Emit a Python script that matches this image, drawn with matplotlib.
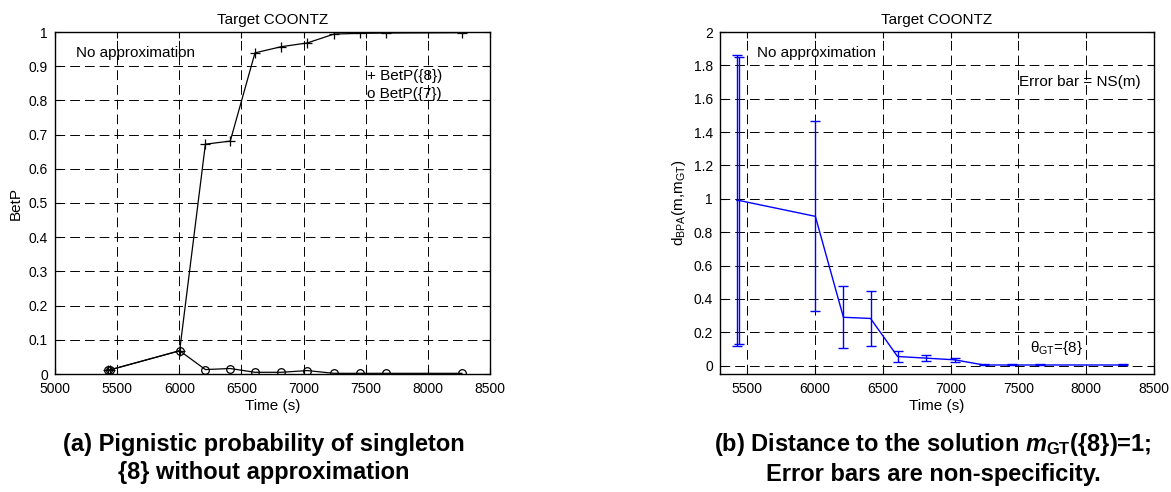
import matplotlib
matplotlib.use("Agg")
import matplotlib.pyplot as plt
from matplotlib.ticker import FuncFormatter

plt.rcParams['font.family'] = ['Liberation Sans', 'DejaVu Sans']
plt.rcParams['mathtext.fontset'] = 'custom'
plt.rcParams['mathtext.rm'] = 'Liberation Sans'
plt.rcParams['mathtext.it'] = 'Liberation Sans:italic:bold'
plt.rcParams['mathtext.bf'] = 'Liberation Sans:bold'
plt.rcParams['lines.scale_dashes'] = False

# ---- data ----
times = [5425, 5442, 6003, 6210, 6410, 6609, 6820, 7030, 7245, 7454, 7660, 8274]
betp8 = [0.012, 0.012, 0.068, 0.672, 0.681, 0.939, 0.957, 0.968, 0.994, 0.996, 0.997, 0.998]
betp7 = [0.012, 0.012, 0.068, 0.013, 0.016, 0.005, 0.005, 0.010, 0.002, 0.002, 0.002, 0.002]
dist = [0.99, 0.99, 0.895, 0.29, 0.283, 0.055, 0.045, 0.035, 0.004, 0.004, 0.004, 0.004]
ns_err = [0.87, 0.86, 0.57, 0.185, 0.167, 0.033, 0.016, 0.012, 0.003, 0.003, 0.003, 0.003]

xticks = [5000, 5500, 6000, 6500, 7000, 7500, 8000, 8500]
yticks_a = [0, 0.1, 0.2, 0.3, 0.4, 0.5, 0.6, 0.7, 0.8, 0.9, 1]
yticks_b = [0, 0.2, 0.4, 0.6, 0.8, 1, 1.2, 1.4, 1.6, 1.8, 2]

W, H = 1171, 492
fig = plt.figure(figsize=(W / 100, H / 100), dpi=100)
ax1 = fig.add_axes([55 / W, 118 / H, 435 / W, 342 / H])
ax2 = fig.add_axes([720 / W, 118 / H, 434 / W, 342 / H])

gfmt = FuncFormatter(lambda v, p: ('%g' % round(v, 6)))

def style(ax):
    ax.grid(True, color='black', linestyle=(0, (7, 3.6)), linewidth=0.7)
    ax.tick_params(direction='in', top=True, right=True, length=4,
                   labelsize=10, width=0.8)
    ax.tick_params(axis='x', pad=6)
    ax.tick_params(axis='y', pad=5)
    for s in ax.spines.values():
        s.set_linewidth(1.0)
    ax.set_axisbelow(True)

# ---- left panel ----
ax1.plot(times, betp8, color='black', lw=0.9, marker='+', ms=7, mew=0.9)
ax1.plot(times, betp7, color='black', lw=0.9, marker='o', ms=5.5,
         mfc='none', mew=0.9)
ax1.set_xlim(5000, 8500)
ax1.set_ylim(0, 1)
ax1.set_xticks(xticks)
ax1.set_yticks(yticks_a)
ax1.yaxis.set_major_formatter(gfmt)
style(ax1)
ax1.set_title('Target COONTZ', fontsize=11, pad=6)
ax1.set_xlabel('Time (s)', fontsize=11, labelpad=2)
ax1.set_ylabel('BetP', fontsize=11, labelpad=4)
ax1.text(5169, 0.939, 'No approximation', fontsize=11, va='center', ha='left')
ax1.text(7510, 0.871, '+ BetP({8})', fontsize=11, va='center', ha='left')
ax1.text(7510, 0.818, 'o BetP({7})', fontsize=11, va='center', ha='left')

# ---- right panel ----
ax2.errorbar(times, dist, yerr=ns_err, color='#0000ff', lw=1.0,
             elinewidth=1.0, capsize=3.5, capthick=1.0)
ax2.set_xlim(5300, 8500)
ax2.set_ylim(-0.05, 2)
ax2.set_xticks(xticks[1:])
ax2.set_yticks(yticks_b)
ax2.yaxis.set_major_formatter(gfmt)
style(ax2)
ax2.set_title('Target COONTZ', fontsize=11, pad=6)
ax2.set_xlabel('Time (s)', fontsize=11, labelpad=2)
ax2.set_ylabel(r'd$_{\mathrm{BPA}}$(m,m$_{\mathrm{GT}}$)', fontsize=11, labelpad=4)
ax2.text(5570, 1.876, 'No approximation', fontsize=11, va='center', ha='left')
ax2.text(7506, 1.70, 'Error bar = NS(m)', fontsize=11, va='center', ha='left')
ax2.text(7585, 0.106, r'θ$_{\mathrm{GT}}$={8}', fontsize=11, va='center', ha='left')

# ---- captions ----
fig.text(264 / W, 1 - 458.5 / H,
         '(a) Pignistic probability of singleton\n{8} without approximation',
         ha='center', va='center', fontsize=17, fontweight='bold', linespacing=1.3)
fig.text(933 / W, 1 - 458.5 / H,
         '(b) Distance to the solution $m_{\\mathbf{GT}}$({8})=1;\nError bars are non-specificity.',
         ha='center', va='center', fontsize=17, fontweight='bold', linespacing=1.3)

fig.savefig('out.png', dpi=100)
